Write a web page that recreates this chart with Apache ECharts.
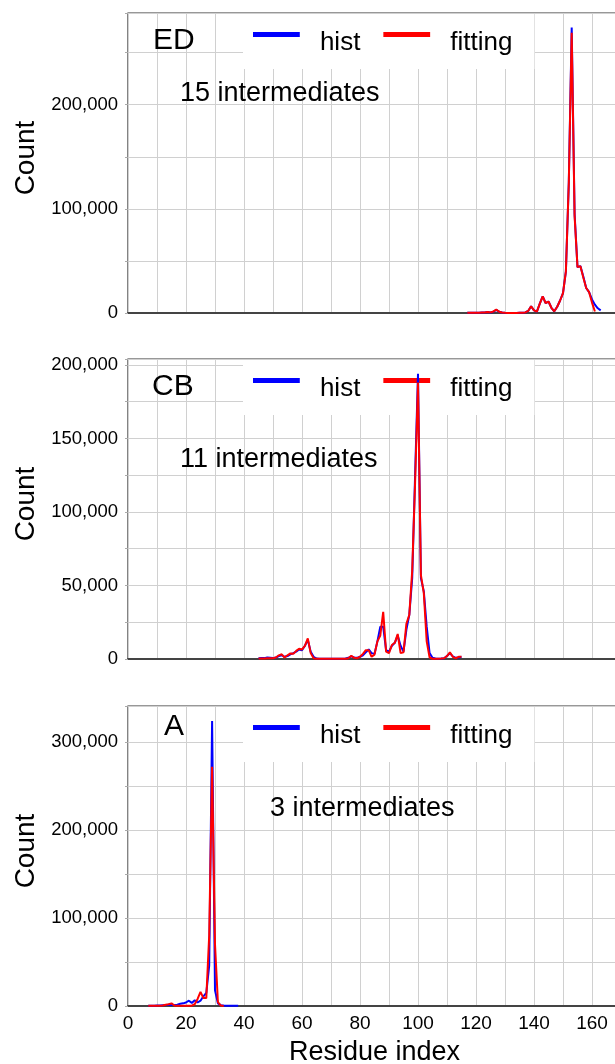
<!DOCTYPE html>
<html>
<head>
    <meta charset="utf-8" />
    <title></title>
    <script src="https://cdn.jsdelivr.net/npm/echarts@6/dist/echarts.min.js"></script>
    <style>
        html, body { margin: 0; padding: 0; overflow: hidden; background: #fff; }
    </style>
</head>
<body>
<div id="main" style="width: 640px; height: 1064px"></div>
<script type="text/javascript">
    // residue index -> counts, one set per panel
    var residuesED = [117,118,119,120,121,122,123,124,125,126,127,128,129,130,131,132,133,134,135,136,137,138,139,140,141,142,143,144,145,146,147,148,149,150,151,152,153,154,155,156,157,158,159,160,161,162,163];
    var histED = [200,200,300,300,300,500,500,1000,500,1200,3000,1200,400,200,100,100,100,100,200,300,500,2000,6500,2500,1300,9000,16000,9600,11000,5000,1600,6000,12000,19000,40000,125000,274000,95000,44000,45000,35000,24000,20000,13000,8000,4500,2500];
    var fitED = [200,200,200,300,300,400,500,1000,600,1500,3200,1200,400,200,100,100,100,100,200,300,500,2000,6500,2500,1300,9000,16000,9600,11000,5000,1600,6000,12000,19000,40000,125000,269000,93000,44000,45000,34000,24000,20000,10000,1500];

    var residuesCB = [45,46,47,48,49,50,51,52,53,54,55,56,57,58,59,60,61,62,63,64,65,66,67,68,69,70,71,72,73,74,75,76,77,78,79,80,81,82,83,84,85,86,87,88,89,90,91,92,93,94,95,96,97,98,99,100,101,102,103,104,105,106,107,108,109,110,111,112,113,114,115];
    var histCB = [500,600,600,1000,800,600,1000,2000,2600,1500,2000,3200,4000,5000,6500,6000,9000,13000,5000,1500,300,100,100,100,100,100,100,100,100,200,300,800,1800,1000,800,1500,2500,4500,6500,4000,3500,12000,22000,22000,6000,5000,9000,11000,16000,9000,5000,20000,30000,55000,125000,194000,55000,46000,22000,4000,800,300,200,300,500,2000,4000,1800,800,1000,1500];
    var fitCB = [300,300,300,500,500,500,1000,2500,3200,1000,2500,3800,3500,5500,7000,6500,9000,14000,4000,500,100,100,100,100,100,100,100,100,100,100,200,500,2200,800,500,1500,3500,6000,6000,1500,3000,12000,16000,32000,5000,4000,9500,11000,17000,4000,4500,24000,30000,60000,120000,188000,57000,45000,12000,1000,200,200,200,300,500,2000,4500,1500,500,1500,1500];

    var residuesA = [7,8,9,10,11,12,13,14,15,16,17,18,19,20,21,22,23,24,25,26,27,28,29,30,31,32,33,34,35,36,37,38];
    var histA = [200,300,300,500,600,800,1000,1500,1000,1000,1500,2500,3000,4000,6000,3500,6500,4000,6000,11000,15000,46000,324000,18000,3000,1000,500,300,300,200,200,200];
    var fitA = [200,200,200,300,400,600,1500,2000,3000,500,200,200,200,200,200,300,2000,8000,16000,9000,9000,80000,272000,70000,4500,500,0];

    var panelNames = ['ED', 'CB', 'A'];
    var panelNotes = ['15 intermediates', '11 intermediates', '3 intermediates'];
    var seriesNames = ['hist', 'fitting'];
    var yMax = [288000, 204000, 341000];
    var yStep = [50000, 25000, 50000];
    var yLabelStep = [100000, 50000, 100000];

    var FONT = 'Liberation Sans';
    var tops = [13, 359, 706];
    // bar at the top of a taller box, so the legend text sits below the line like the original
    var legendIcon = 'path://M0,0H47V5H0Z M0,22H0.1V22.1H0Z';

    function pairs(xs, ys) {
        return ys.map(function (v, i) { return [xs[i], v]; });
    }
    var allData = [
        [pairs(residuesED, histED), pairs(residuesED, fitED)],
        [pairs(residuesCB, histCB), pairs(residuesCB, fitCB)],
        [pairs(residuesA, histA), pairs(residuesA, fitA)]
    ];

    var myChart = echarts.init(document.getElementById('main'));

    var grids = [], xAxes = [], yAxes = [], series = [], legends = [], titles = [];
    for (var p = 0; p < 3; p++) {
        grids.push({
            left: 128, top: tops[p], width: 493, height: 300,
            outerBoundsMode: 'none', containLabel: false,
            show: true, borderColor: '#333', borderWidth: 1.2, backgroundColor: '#fff'
        });
        var last = p === 2;
        xAxes.push({
            type: 'value', gridIndex: p, min: 0, max: 170, interval: 10,
            axisLine: { show: true, lineStyle: { color: '#444', width: 2 } },
            axisTick: { show: false },
            axisLabel: {
                show: last, margin: 8, fontFamily: FONT, fontSize: 19, color: '#000',
                formatter: function (v) { return v % 20 === 0 ? String(v) : ''; }
            },
            splitLine: { show: true, lineStyle: { color: '#d0d0d0', width: 1 } },
            name: last ? 'Residue index' : '',
            nameLocation: 'middle', nameGap: 33,
            nameTextStyle: { fontFamily: FONT, fontSize: 27, color: '#000' }
        });
        (function (step) {
            yAxes.push({
                type: 'value', gridIndex: p, min: 0, max: yMax[p], interval: yStep[p],
                axisLine: { show: false },
                axisTick: { show: true, length: 3, lineStyle: { color: '#aaa' } },
                axisLabel: {
                    margin: 10, fontFamily: FONT, fontSize: 18.5, color: '#000',
                    formatter: function (v) { return v % step === 0 ? v.toLocaleString('en-US') : ''; }
                },
                splitLine: { show: true, lineStyle: { color: '#d0d0d0', width: 1 } },
                name: 'Count', nameLocation: 'middle', nameGap: 88,
                nameTextStyle: { fontFamily: FONT, fontSize: 28, color: '#000', padding: [0, 0, 0, 10] }
            });
        })(yLabelStep[p]);
        series.push({
            name: 'hist', type: 'line', xAxisIndex: p, yAxisIndex: p,
            data: allData[p][0], showSymbol: false, animation: false,
            lineStyle: { color: '#0000ff', width: 2 }, itemStyle: { color: '#0000ff' }, z: 5
        });
        series.push({
            name: 'fitting', type: 'line', xAxisIndex: p, yAxisIndex: p,
            data: allData[p][1], showSymbol: false, animation: false,
            lineStyle: { color: '#ff0000', width: 2 }, itemStyle: { color: '#ff0000' }, z: 6
        });
        legends.push({
            data: seriesNames, left: 243, top: tops[p] + 1, z: 1,
            orient: 'horizontal', icon: legendIcon, itemWidth: 47, itemHeight: 22, itemGap: 23,
            backgroundColor: '#fff', padding: [16, 22, 13, 10],
            textStyle: { fontFamily: FONT, fontSize: 26, color: '#000', padding: [0, 0, 0, 15] }
        });
    }
    var nameStyle = { fontFamily: FONT, fontSize: 30, fontWeight: 'normal', color: '#000' };
    var noteStyle = { fontFamily: FONT, fontSize: 27, fontWeight: 'normal', color: '#000' };
    titles.push({ text: panelNames[0], left: 153, top: 26, padding: 0, textStyle: nameStyle });
    titles.push({ text: panelNotes[0], left: 180, top: 80, padding: 0, textStyle: noteStyle });
    titles.push({ text: panelNames[1], left: 152, top: 372, padding: 0, textStyle: nameStyle });
    titles.push({ text: panelNotes[1], left: 180, top: 446, padding: 0, textStyle: noteStyle });
    titles.push({ text: panelNames[2], left: 164, top: 712, padding: 0, textStyle: nameStyle });
    titles.push({ text: panelNotes[2], left: 270, top: 795, padding: 0, textStyle: noteStyle });

    myChart.setOption({
        animation: false,
        title: titles,
        legend: legends,
        grid: grids,
        xAxis: xAxes,
        yAxis: yAxes,
        series: series
    });
</script>
</body>
</html>
